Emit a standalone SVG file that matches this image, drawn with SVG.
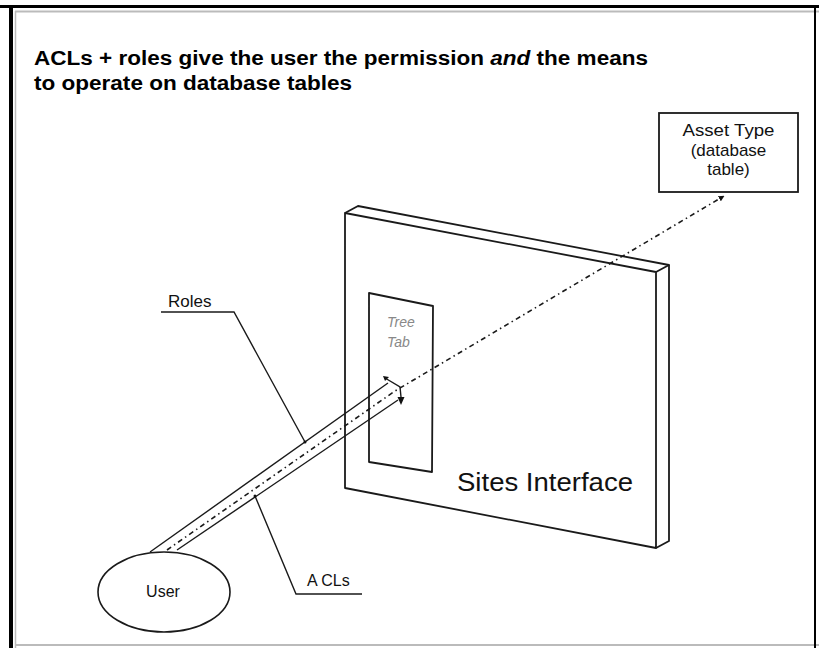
<svg xmlns="http://www.w3.org/2000/svg" width="819" height="648" viewBox="0 0 819 648">
<style>
.ln{fill:none;stroke:#1a1a1a;stroke-width:1.8;stroke-linejoin:round}
.thin{fill:none;stroke:#1a1a1a;stroke-width:1.4}
.dd{fill:none;stroke:#1a1a1a;stroke-width:1.6;stroke-dasharray:5 3.5 1.5 3.5}
.t{font-family:"Liberation Sans",Arial,sans-serif;fill:#111}
.title{font-family:"Liberation Sans",Arial,sans-serif;font-weight:bold;font-size:20px;fill:#000}
</style>
<defs>
<marker id="ah" viewBox="0 0 10 10" refX="9" refY="5" markerWidth="6" markerHeight="6" orient="auto" markerUnits="userSpaceOnUse">
<path d="M0,0 L10,5 L0,10 z" fill="#111"/>
</marker>
</defs>
<rect x="0" y="0" width="819" height="648" fill="#fff"/>
<g id="frame">
<line x1="0" y1="6.5" x2="819" y2="6.5" stroke="#000" stroke-width="3"/>
<line x1="11" y1="5" x2="11" y2="648" stroke="#000" stroke-width="4"/>
<line x1="15" y1="11.5" x2="819" y2="11.5" stroke="#bbb" stroke-width="2"/>
<line x1="15.5" y1="11" x2="15.5" y2="648" stroke="#bbb" stroke-width="1.5"/>
<line x1="15" y1="645" x2="819" y2="645" stroke="#bbb" stroke-width="2"/>
<line x1="815" y1="5" x2="815" y2="648" stroke="#000" stroke-width="2"/>
</g>
<g id="title">
<text class="title" x="34" y="65" textLength="614" lengthAdjust="spacingAndGlyphs">ACLs + roles give the user the permission <tspan font-style="italic">and</tspan> the means</text>
<text class="title" x="34" y="90" textLength="318" lengthAdjust="spacingAndGlyphs">to operate on database tables</text>
</g>
<g id="asset-type">
<rect x="659" y="113" width="139" height="79" fill="#fff" stroke="#1a1a1a" stroke-width="1.8"/>
<text class="t" x="728.5" y="136" font-size="17" text-anchor="middle" textLength="92" lengthAdjust="spacingAndGlyphs">Asset Type</text>
<text class="t" x="728.5" y="156" font-size="17" text-anchor="middle">(database</text>
<text class="t" x="728.5" y="175" font-size="17" text-anchor="middle">table)</text>
</g>
<g id="sites-interface">
<polygon class="ln" points="345,213 656,272 656,548 345,488" fill="#fff"/>
<polyline class="ln" points="345,213 358,206 669,265 656,272"/>
<polyline class="ln" points="669,265 669,541 656,548"/>
<text class="t" x="457" y="491" font-size="26" textLength="176" lengthAdjust="spacingAndGlyphs">Sites Interface</text>
</g>
<g id="tree-tab">
<polygon class="ln" points="369,293 433,306 432,472 369,462" fill="#fff"/>
<text x="387" y="327" font-family="Liberation Sans,Arial,sans-serif" font-size="14" font-style="italic" fill="#888">Tree</text>
<text x="387" y="347" font-family="Liberation Sans,Arial,sans-serif" font-size="14" font-style="italic" fill="#888">Tab</text>
</g>
<g id="user">
<ellipse cx="164" cy="592" rx="66" ry="40" fill="#fff" stroke="#1a1a1a" stroke-width="1.6"/>
<text class="t" x="163" y="597" font-size="16" text-anchor="middle">User</text>
</g>
<g id="roles-label">
<text class="t" x="168" y="307" font-size="17">Roles</text>
</g>
<g id="acls-label">
<text class="t" x="307" y="586" font-size="16">A CLs</text>
</g>
<g id="connectors">
<line class="thin" x1="150" y1="552" x2="388" y2="383"/>
<line class="thin" x1="177" y1="550" x2="398" y2="400"/>
<polyline class="dd" points="167,550 395,391 724,196" marker-end="url(#ah)"/>
<polyline class="thin" points="385,378 400,387 401,397"/>
<path d="M397.5,397 L404.5,397 L401,405 z" fill="#111"/>
<path d="M383,376 L389,377 L385,381 z" fill="#111"/>
<polyline class="thin" points="161,312 234,312 305,442"/>
<circle cx="305" cy="442" r="1.5" fill="#111"/>
<polyline class="thin" points="255,496 296,594 362,594"/>
<circle cx="255" cy="496" r="1.5" fill="#111"/>
</g>
</svg>
